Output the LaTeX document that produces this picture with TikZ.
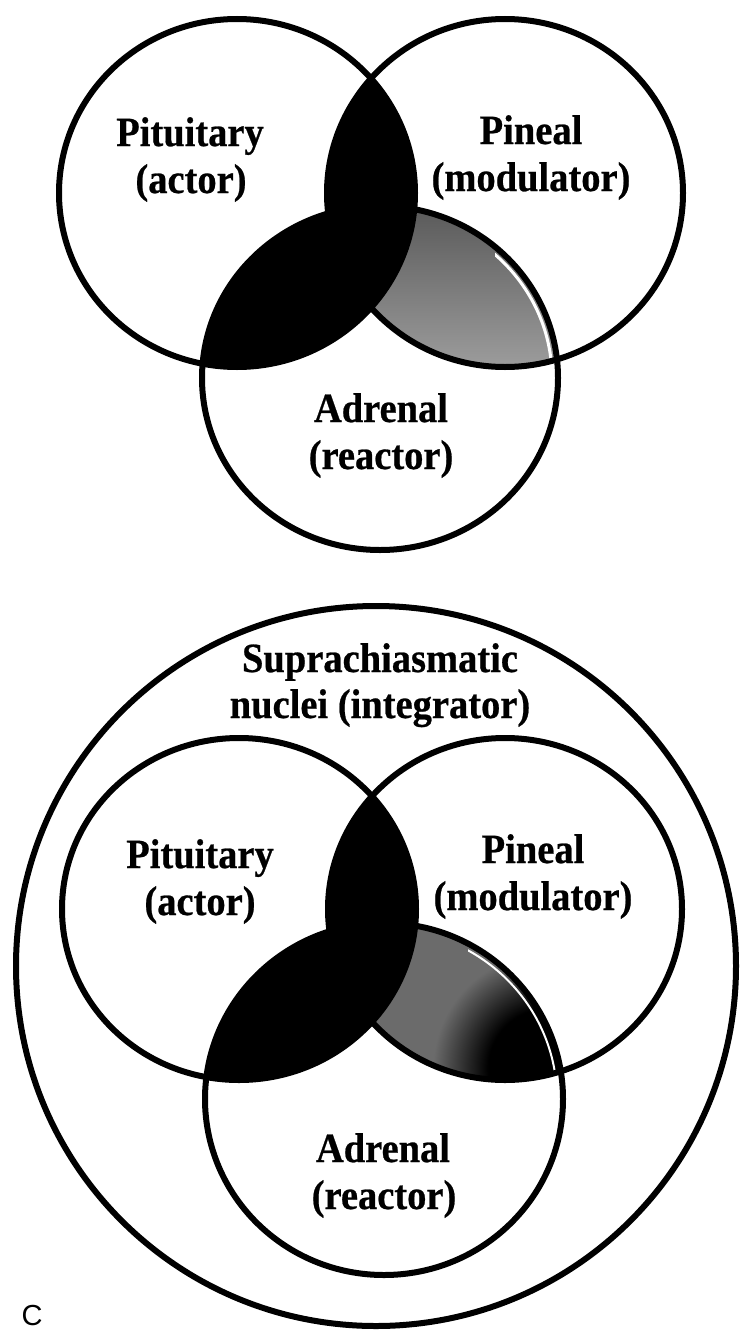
\documentclass[tikz,border=0pt]{standalone}
\usepackage{fontspec}
\setmainfont{Liberation Serif}
\newfontfamily\lblfont[FakeBold=0.6]{Liberation Serif Bold}
\newfontfamily\labelsans{Liberation Sans}
\pgfdeclareradialshading{blackblob}{\pgfpoint{0bp}{0bp}}{color(0bp)=(black); color(13bp)=(black); color(25bp)=(black!58); color(50bp)=(black!58)}
\newcommand{\lab}[1]{\scalebox{1}[1.08]{#1}}
\begin{document}
\begin{tikzpicture}[x=1pt,y=-1pt,
  ring/.style={line width=6pt, draw=black},
  sliver/.style={line width=3pt, draw=white},
  lbl/.style={font=\lblfont\fontsize{38.5}{47}\selectfont, anchor=base, inner sep=0pt}]
\useasboundingbox (0,0) rectangle (744,1330);
% ---------- top diagram ----------
\def\Lt{(237,193) ellipse [x radius=178pt, y radius=174pt]}
\def\Rt{(505,193) ellipse [x radius=178pt, y radius=174pt]}
\def\At{(380,378) ellipse [x radius=178pt, y radius=172pt]}
\begin{scope}
  \clip \Rt; \clip \At;
  \shade[top color=black!66, bottom color=black!38] (300,200) rectangle (600,372);
  \clip (495,200) rectangle (600,372);
  \draw[sliver] (380,378) ellipse [x radius=172pt, y radius=166pt];
\end{scope}
\begin{scope}
  \clip \Lt;
  \fill[black] \Rt;
  \fill[black] \At;
\end{scope}
\draw[ring] \Lt;
\draw[ring] \Rt;
\draw[ring] \At;
\node[lbl] (pit1a) at (190,146) {\lab{Pituitary}};
\node[lbl] (pit1b) at (191,193) {\lab{(actor)}};
\node[lbl] (pin1a) at (531,144) {\lab{Pineal}};
\node[lbl] (pin1b) at (531,191) {\lab{(modulator)}};
\node[lbl] (adr1a) at (381,422) {\lab{Adrenal}};
\node[lbl] (adr1b) at (381,469) {\lab{(reactor)}};
% ---------- bottom diagram ----------
\def\Ob{(376,966) circle [radius=360pt]}
\def\Lb{(239,909) ellipse [x radius=177pt, y radius=171pt]}
\def\Rb{(505,909) ellipse [x radius=177pt, y radius=171pt]}
\def\Ab{(384,1099) ellipse [x radius=179pt, y radius=176pt]}
\begin{scope}
  \clip \Rb; \clip \Ab;
  \fill[black!58] (300,900) rectangle (600,1100);
  \shade[shading=blackblob] (548,1068) circle [radius=115pt];
  \clip (468,900) rectangle (600,1072);
  \draw[line width=2pt, draw=white] (384,1099) ellipse [x radius=173pt, y radius=170pt];
\end{scope}
\begin{scope}
  \clip \Lb;
  \fill[black] \Rb;
  \fill[black] \Ab;
\end{scope}
\draw[ring] \Ob;
\draw[ring] \Lb;
\draw[ring] \Rb;
\draw[ring] \Ab;
\node[lbl] (scn1) at (380,672) {\lab{Suprachiasmatic}};
\node[lbl] (scn2) at (380,718) {\lab{nuclei (integrator)}};
\node[lbl] (pit2a) at (200,868) {\lab{Pituitary}};
\node[lbl] (pit2b) at (200,915) {\lab{(actor)}};
\node[lbl] (pin2a) at (533,863) {\lab{Pineal}};
\node[lbl] (pin2b) at (533,910) {\lab{(modulator)}};
\node[lbl] (adr2a) at (383,1162) {\lab{Adrenal}};
\node[lbl] (adr2b) at (384,1209) {\lab{(reactor)}};
\node[font=\labelsans\fontsize{29}{29}\selectfont, anchor=base, inner sep=0pt] (lblC) at (32,1325) {C};
\end{tikzpicture}
\end{document}
